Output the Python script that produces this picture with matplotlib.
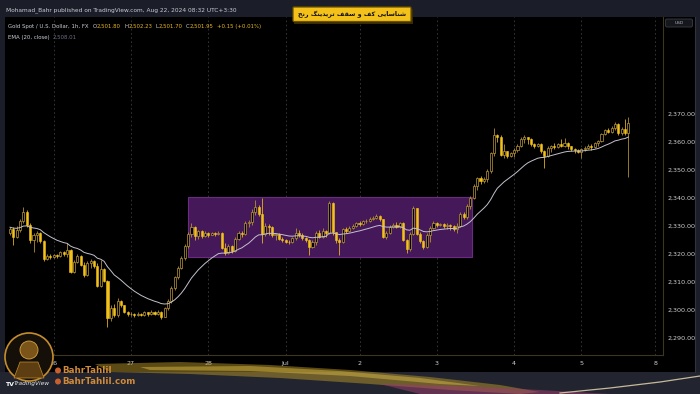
import numpy as np
import matplotlib
matplotlib.use("Agg")
import matplotlib.pyplot as plt
from matplotlib.patches import Rectangle, FancyBboxPatch, Circle, Polygon

# ---------------- data ----------------
first_open = 2327.5
closes = [
    2328.8, 2326.0, 2328.5, 2331.8, 2335.0, 2330.3, 2325.0, 2326.5, 2327.3, 2324.5,
    2318.0, 2319.3, 2318.8, 2319.4, 2319.0, 2320.5, 2319.8, 2321.3, 2313.5, 2317.0,
    2319.0, 2316.0, 2312.5, 2316.5, 2317.2, 2315.5, 2308.5, 2314.5, 2310.2, 2297.0,
    2300.5, 2298.0, 2303.0, 2301.5, 2299.3, 2298.3, 2298.6, 2298.0, 2298.5, 2298.2,
    2299.0, 2298.4, 2299.2, 2298.6, 2299.3, 2297.5, 2300.5, 2303.2, 2307.8, 2311.5,
    2315.0, 2318.5, 2322.8, 2327.0, 2329.5, 2326.2, 2328.0, 2326.3, 2327.5, 2326.8,
    2327.3, 2326.9, 2327.4, 2322.0, 2320.2, 2322.8, 2320.8, 2325.4, 2327.5, 2327.0,
    2331.0, 2331.2, 2335.0, 2336.8, 2334.0, 2327.0, 2330.0, 2329.5, 2326.5, 2327.0,
    2325.2, 2324.8, 2324.2, 2324.0, 2325.5, 2327.5, 2326.8, 2325.5, 2325.0, 2322.5,
    2324.0, 2327.5, 2326.0, 2328.0, 2327.3, 2338.0, 2327.6, 2325.0, 2324.0, 2328.8,
    2328.2, 2329.2, 2330.0, 2330.8, 2330.5, 2331.5, 2331.8, 2332.4, 2332.8, 2333.5,
    2332.2, 2326.0, 2327.5, 2329.5, 2330.2, 2329.6, 2330.8, 2325.0, 2321.5, 2327.0,
    2336.3, 2327.0, 2324.5, 2322.5, 2326.5, 2329.3, 2331.0, 2330.2, 2330.6, 2329.8,
    2330.3, 2330.0, 2328.7, 2330.0, 2334.2, 2333.0, 2337.0, 2340.0, 2344.3, 2347.0,
    2345.8, 2346.5, 2349.5, 2355.8, 2362.2, 2361.5, 2355.3, 2356.5, 2355.0, 2355.8,
    2357.0, 2358.6, 2360.8, 2361.5, 2361.0, 2359.0, 2358.5, 2359.2, 2356.6, 2355.0,
    2357.8, 2358.5, 2358.0, 2359.0, 2358.6, 2359.5, 2358.3, 2357.5, 2357.0, 2356.4,
    2357.2, 2357.8, 2358.6, 2358.0, 2359.4, 2360.2, 2362.8, 2364.0, 2363.6, 2364.8,
    2366.2, 2363.0, 2364.5, 2363.0, 2366.8,
]
highs = [
    2329.6, 2329.5, 2329.8, 2332.5, 2336.8, 2335.5, 2330.8, 2327.4, 2328.2, 2327.8,
    2325.0, 2320.0, 2319.8, 2320.0, 2319.8, 2321.0, 2320.8, 2323.8, 2321.5, 2317.8,
    2319.8, 2319.5, 2317.0, 2317.5, 2318.0, 2317.7, 2316.5, 2317.7, 2315.0, 2310.5,
    2301.5, 2302.0, 2304.2, 2303.5, 2301.8, 2299.5, 2299.3, 2298.9, 2299.2, 2298.8,
    2299.5, 2299.3, 2299.8, 2299.5, 2300.0, 2299.5, 2301.0, 2303.8, 2308.3, 2312.0,
    2315.6, 2319.2, 2323.5, 2327.8, 2331.0, 2329.8, 2328.5, 2328.5, 2328.0, 2327.9,
    2327.8, 2327.6, 2328.0, 2327.6, 2323.8, 2323.5, 2323.2, 2325.8, 2328.0, 2328.2,
    2331.5, 2332.0, 2335.8, 2339.2, 2337.5, 2339.9, 2330.8, 2330.5, 2330.0, 2327.5,
    2327.2, 2325.8, 2325.4, 2325.0, 2326.0, 2329.2, 2328.3, 2327.2, 2326.0, 2325.3,
    2324.8, 2328.0, 2328.3, 2329.2, 2328.5, 2338.8, 2338.4, 2327.8, 2325.5, 2329.3,
    2329.5, 2329.8, 2330.6, 2331.3, 2331.6, 2332.0, 2332.5, 2333.0, 2333.6, 2334.0,
    2333.8, 2332.5, 2328.0, 2330.2, 2331.0, 2331.2, 2331.4, 2331.2, 2325.2, 2327.8,
    2337.0, 2336.2, 2327.8, 2325.0, 2327.2, 2329.8, 2331.5, 2331.2, 2331.0, 2330.9,
    2330.8, 2330.7, 2330.2, 2330.8, 2334.8, 2334.9, 2337.6, 2340.6, 2345.0, 2347.5,
    2347.6, 2347.2, 2350.2, 2356.3, 2364.9, 2362.8, 2362.4, 2359.0, 2356.8, 2356.4,
    2357.6, 2359.0, 2361.7, 2362.4, 2361.8, 2361.3, 2359.5, 2359.6, 2359.4, 2357.0,
    2358.5, 2358.9, 2359.5, 2359.6, 2361.0, 2361.3, 2359.8, 2358.6, 2357.8, 2357.4,
    2357.8, 2358.4, 2359.0, 2359.2, 2360.0, 2360.6, 2363.2, 2364.6, 2364.9, 2365.4,
    2367.0, 2366.5, 2365.2, 2368.0, 2368.8,
]
lows = [
    2326.5, 2323.0, 2325.5, 2327.8, 2331.0, 2329.5, 2323.7, 2320.6, 2324.3, 2323.8,
    2317.2, 2317.8, 2318.2, 2318.5, 2318.4, 2318.8, 2319.2, 2318.8, 2313.0, 2313.0,
    2316.5, 2315.5, 2311.7, 2312.0, 2315.0, 2314.8, 2308.0, 2308.2, 2309.8, 2293.9,
    2296.0, 2297.2, 2297.5, 2300.8, 2298.8, 2297.8, 2297.6, 2297.5, 2297.8, 2297.6,
    2297.9, 2297.9, 2298.1, 2298.0, 2298.2, 2296.8, 2297.2, 2300.0, 2302.5, 2307.0,
    2310.8, 2314.6, 2317.8, 2322.0, 2326.0, 2325.0, 2325.2, 2325.5, 2325.8, 2326.0,
    2326.5, 2326.4, 2326.6, 2321.5, 2319.5, 2319.8, 2320.3, 2320.5, 2325.0, 2325.8,
    2326.8, 2329.5, 2330.3, 2333.8, 2333.5, 2323.8, 2326.3, 2326.5, 2325.8, 2324.8,
    2324.8, 2324.0, 2323.7, 2323.5, 2323.7, 2325.0, 2325.8, 2324.8, 2324.2, 2319.5,
    2322.0, 2323.1, 2325.5, 2325.6, 2326.0, 2327.0, 2326.8, 2323.8, 2319.5, 2323.8,
    2327.5, 2327.9, 2328.8, 2329.5, 2329.9, 2330.2, 2331.0, 2331.3, 2332.0, 2332.5,
    2331.8, 2325.6, 2325.2, 2327.0, 2329.0, 2329.0, 2329.2, 2324.5, 2320.2, 2321.0,
    2326.5, 2326.5, 2323.8, 2321.8, 2322.0, 2324.2, 2328.8, 2329.5, 2329.7, 2329.2,
    2328.9, 2328.6, 2328.2, 2327.4, 2329.5, 2332.2, 2332.5, 2336.0, 2339.5, 2342.8,
    2345.0, 2345.2, 2345.5, 2348.8, 2355.0, 2360.0, 2354.8, 2354.0, 2354.2, 2354.5,
    2354.5, 2356.3, 2358.1, 2359.5, 2359.2, 2358.5, 2357.7, 2357.9, 2356.0, 2350.6,
    2354.5, 2356.3, 2357.5, 2357.7, 2358.0, 2358.2, 2357.5, 2356.5, 2356.0, 2355.8,
    2354.2, 2356.5, 2357.2, 2357.0, 2357.6, 2358.5, 2359.8, 2362.2, 2363.0, 2363.1,
    2364.2, 2362.4, 2362.4, 2362.2, 2347.4,
]
ema_period = 20
ema_seed = 2329.5

day_ticks = [13, 36, 59, 82, 104, 127, 150, 170, 192]
day_labels = ["26", "27", "28", "Jul", "2", "3", "4", "5", "8"]
price_ticks = [2290, 2300, 2310, 2320, 2330, 2340, 2350, 2360, 2370]

box_start, box_end = 53.0, 137.6
box_low, box_high = 2318.7, 2340.1

title_fa = "شناسایی کف و سقف تریدینگ رنج"
header_text = "Mohamad_Bahr published on TradingView.com, Aug 22, 2024 08:32 UTC+3:30"
legend_name = "Gold Spot / U.S. Dollar, 1h, FX"
legend_ohlc = [("O", "2,501.80"), ("H", "2,502.23"), ("L", "2,501.70"), ("C", "2,501.95")]
legend_change = "+0.15 (+0.01%)"
ema_label = "EMA (20, close)"
ema_value = "2,508.01"

# ---------------- helpers ----------------
FORMS = {
    'ا': ('\uFE8D', '\uFE8E', None, None),
    'ت': ('\uFE95', '\uFE96', '\uFE97', '\uFE98'),
    'ج': ('\uFE9D', '\uFE9E', '\uFE9F', '\uFEA0'),
    'د': ('\uFEA9', '\uFEAA', None, None),
    'ر': ('\uFEAD', '\uFEAE', None, None),
    'س': ('\uFEB1', '\uFEB2', '\uFEB3', '\uFEB4'),
    'ش': ('\uFEB5', '\uFEB6', '\uFEB7', '\uFEB8'),
    'ف': ('\uFED1', '\uFED2', '\uFED3', '\uFED4'),
    'ق': ('\uFED5', '\uFED6', '\uFED7', '\uFED8'),
    'ن': ('\uFEE5', '\uFEE6', '\uFEE7', '\uFEE8'),
    'و': ('\uFEED', '\uFEEE', None, None),
    '\u06CC': ('\uFBFC', '\uFBFD', '\uFBFE', '\uFBFF'),
    '\u06A9': ('\uFB8E', '\uFB8F', '\uFB90', '\uFB91'),
    'گ': ('\uFB92', '\uFB93', '\uFB94', '\uFB95'),
}


def shape_rtl(s):
    s = s.replace('\u064A', '\u06CC').replace('\u0643', '\u06A9')
    out = []
    for k, ch in enumerate(s):
        f = FORMS.get(ch)
        if f is None:
            out.append(ch)
            continue
        prev = s[k - 1] if k > 0 else ' '
        nxt = s[k + 1] if k + 1 < len(s) else ' '
        jp = prev in FORMS and FORMS[prev][2] is not None
        jn = (nxt in FORMS) and f[2] is not None
        if jp and jn:
            out.append(f[3])
        elif jp:
            out.append(f[1])
        elif jn:
            out.append(f[2])
        else:
            out.append(f[0])
    return ''.join(reversed(out))


W, H = 700, 394
fig = plt.figure(figsize=(7, 3.94), dpi=100)
fig.patch.set_facecolor('#1b1e28')
renderer = fig.canvas.get_renderer()

# background layer
bg = fig.add_axes([0, 0, 1, 1], zorder=0)
bg.set_xlim(0, W); bg.set_ylim(H, 0); bg.axis('off')
bg.add_patch(Rectangle((663, 17), 32, 355 - 17, fc='black', ec='none'))
bg.add_patch(Rectangle((5, 355), 690, 17, fc='black', ec='none'))
bg.add_patch(Rectangle((0, 372), 700, 22, fc='#22252f', ec='none'))
bg.plot([694.5, 694.5], [17, 372], color='#30333d', lw=0.8)

# main chart
x0, x1, y0, y1 = 5, 663, 17, 355
ax = fig.add_axes([x0 / W, 1 - y1 / H, (x1 - x0) / W, (y1 - y0) / H], zorder=1)
ax.set_facecolor('black')

c = np.array(closes)
o = np.r_[first_open, c[:-1]]
hi = np.array(highs)
lo = np.array(lows)
idx = np.arange(len(c))
up = c >= o

ema = []
e = ema_seed
a = 2.0 / (ema_period + 1)
for v in c:
    e = e + a * (v - e)
    ema.append(e)

for t in day_ticks:
    ax.axvline(t, color='#3a3a3a', lw=0.6, ls=(0, (2, 3)), zorder=0)

ax.add_patch(Rectangle((box_start, box_low), box_end - box_start, box_high - box_low,
                       fc='#45185a', ec='#6a2c80', lw=0.8, zorder=1))

up_col = '#bf9a36'
dn_col = '#f2c21b'
wick_cols = [up_col if u else dn_col for u in up]
ax.vlines(idx, lo, hi, colors=wick_cols, lw=0.55, zorder=2)
bodies_bottom = np.minimum(o, c)
bodies_h = np.maximum(np.abs(c - o), 0.3)
ax.bar(idx[up], bodies_h[up], bottom=bodies_bottom[up], width=0.62,
       color='black', edgecolor=up_col, linewidth=0.5, zorder=3)
ax.bar(idx[~up], bodies_h[~up], bottom=bodies_bottom[~up], width=0.62,
       color=dn_col, edgecolor=dn_col, linewidth=0.4, zorder=3)

ax.plot(idx, ema, color='#c4c0cc', lw=0.7, zorder=4)

ax.set_xlim(-1.49, 194.3)
ax.set_ylim(2283.8, 2404.5)
ax.set_xticks(day_ticks)
ax.set_xticklabels(day_labels)
ax.yaxis.tick_right()
ax.set_yticks(price_ticks)
ax.set_yticklabels([f"{p:,.2f}" for p in price_ticks])
ax.tick_params(axis='x', length=0, pad=4.5, labelsize=4.6, labelcolor='#cfcfcf')
ax.tick_params(axis='y', length=0, pad=3.5, labelsize=4.6, labelcolor='#cfcfcf')
for sp in ['top', 'left']:
    ax.spines[sp].set_visible(False)
for sp in ['bottom', 'right']:
    ax.spines[sp].set_color('#3d3621')
    ax.spines[sp].set_linewidth(0.8)

# overlay layer
ov = fig.add_axes([0, 0, 1, 1], zorder=3)
ov.set_xlim(0, W); ov.set_ylim(H, 0); ov.axis('off')
ov.patch.set_alpha(0)


def seq_text(x, y, pieces, fs):
    """place coloured text pieces one after another (pixel coords)"""
    for txt, col, gap in pieces:
        t = ov.text(x, y, txt, fontsize=fs, color=col, va='center', ha='left')
        bb = t.get_window_extent(renderer=renderer)
        x += bb.width + gap
    return x


ov.text(6, 10, header_text, fontsize=4.2, color='#c9ccd4', va='center', ha='left')

LG = '#c9ccd4'
GD = '#e6b820'
pieces = [(legend_name, LG, 4)]
for k, v in legend_ohlc:
    pieces.append((k, LG, 0.4))
    pieces.append((v, GD, 3))
pieces.append((legend_change, GD, 0))
seq_text(8, 26, pieces, 3.9)
seq_text(8, 37, [(ema_label, LG, 3), (ema_value, '#6f7280', 0)], 3.9)

# USD badge
ov.add_patch(FancyBboxPatch((666, 19.5), 26, 7, boxstyle='round,pad=0.5,rounding_size=1.5',
                            fc='#15171d', ec='#3a3d47', lw=0.6))
ov.text(679, 23, "USD", fontsize=3.2, color='#b0b3bb', ha='center', va='center')

# title box
ov.add_patch(Rectangle((294, 9), 119, 15, fc='#3a2c00', ec='none'))
ov.add_patch(FancyBboxPatch((293, 7), 118, 14.5, boxstyle='round,pad=0,rounding_size=1',
                            fc='#f3c11a', ec='#6b5200', lw=0.9))
ov.text(352, 14.3, shape_rtl(title_fa), fontsize=4.6, fontweight='bold', color='#111111',
        ha='center', va='center', family=['DejaVu Sans'])

# swoosh decoration
gold_pts = [(95, 364), (180, 362), (270, 365), (350, 370), (430, 377), (500, 385), (540, 392),
            (520, 394), (450, 390), (370, 384), (280, 378), (190, 374), (110, 372)]
ov.add_patch(Polygon(gold_pts, closed=True, fc='#b8942a', ec='none', alpha=0.5))
gold2 = [(140, 367), (250, 366), (340, 371), (420, 378), (480, 386),
         (440, 384), (350, 376), (250, 371), (150, 370)]
ov.add_patch(Polygon(gold2, closed=True, fc='#f0cf50', ec='none', alpha=0.4))
pink = [(380, 384), (460, 386), (540, 390), (610, 394), (420, 394)]
ov.add_patch(Polygon(pink, closed=True, fc='#9a3d6e', ec='none', alpha=0.55))
ov.plot([560, 610, 660, 700], [393, 388, 382, 376], color='#d9c9a8', lw=0.9, alpha=0.9)

# logo
ov.add_patch(Circle((29, 357), 24, fc='#140f08', ec='#c68d2c', lw=1.2))
ov.add_patch(Circle((29, 350), 9, fc='#7a5418', ec='#d9a441', lw=0.6))
ov.add_patch(Polygon([(14, 378), (20, 362), (38, 362), (44, 378)], closed=True,
                     fc='#5c3e12', ec='#c68d2c', lw=0.5))
ov.text(5, 384, "TV", fontsize=4.5, fontweight='bold', color='white', va='center', ha='left')
ov.text(14, 384, "TradingView", fontsize=4.2, style='italic', color='#e8e8e8', va='center', ha='left')
ov.add_patch(Circle((58, 370.5), 3, fc='#c8602e', ec='none'))
ov.add_patch(Circle((58, 381.5), 3, fc='#c8602e', ec='none'))
ov.text(62, 370.5, "BahrTahlil", fontsize=6.3, fontweight='bold', color='#cf8a3a', va='center', ha='left')
ov.text(62, 381.5, "BahrTahlil.com", fontsize=6.3, fontweight='bold', color='#cf8a3a', va='center', ha='left')

fig.savefig('out.png', dpi=100, facecolor=fig.get_facecolor())
